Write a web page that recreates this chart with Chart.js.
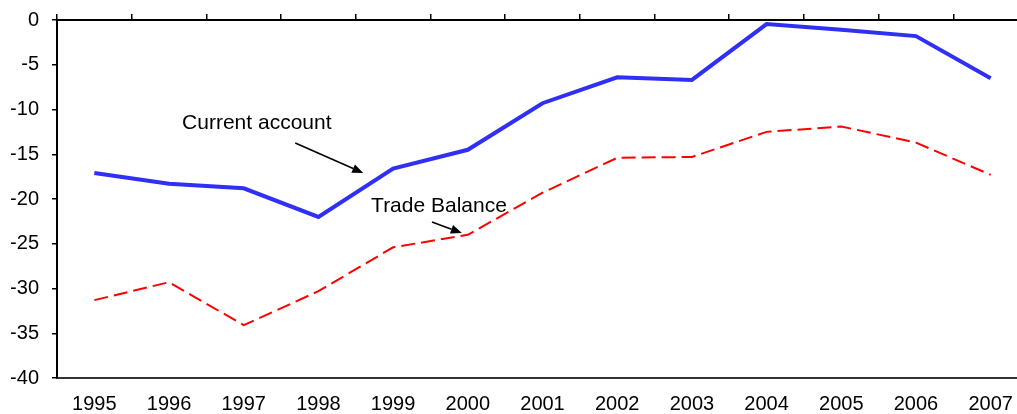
<!DOCTYPE html>
<html>
<head>
<meta charset="utf-8">
<script src="https://cdn.jsdelivr.net/npm/chart.js@4/dist/chart.umd.min.js"></script>
<style>
  html, body { margin: 0; padding: 0; background: #fff; overflow: hidden; }
  #wrap { width: 1030px; height: 414px; }
</style>
</head>
<body>
<div id="wrap"><canvas id="c" width="1030" height="414"></canvas></div>
<script>
const years = ['1995','1996','1997','1998','1999','2000','2001','2002','2003','2004','2005','2006','2007'];
const currentAccount = [-17.1, -18.3, -18.8, -22.0, -16.6, -14.5, -9.3, -6.4, -6.7, -0.45, -1.1, -1.8, -6.5];
const tradeBalance = [-31.3, -29.3, -34.1, -30.3, -25.4, -24.0, -19.3, -15.4, -15.3, -12.5, -11.9, -13.7, -17.3];
const yTicks = [0, -5, -10, -15, -20, -25, -30, -35, -40];

const FONT = '"Liberation Sans", Arial, sans-serif';

const annotationPlugin = {
  id: 'notes',
  afterDatasetsDraw(chart, args, opts) {
    const ctx = chart.ctx, xs = chart.scales.x, ys = chart.scales.y;
    ctx.save();
    ctx.fillStyle = '#000';
    ctx.strokeStyle = '#000';
    ctx.font = '21px ' + FONT;
    ctx.textBaseline = 'middle';
    ctx.textAlign = 'left';
    for (const t of opts.texts) {
      ctx.fillText(t.text, xs.getPixelForValue(t.x), ys.getPixelForValue(t.y));
    }
    for (const a of opts.arrows) {
      const x1 = xs.getPixelForValue(a.x1), y1 = ys.getPixelForValue(a.y1);
      const x2 = xs.getPixelForValue(a.x2), y2 = ys.getPixelForValue(a.y2);
      const ang = Math.atan2(y2 - y1, x2 - x1);
      const hl = 11, hw = 4.5;
      const bx = x2 - hl * Math.cos(ang), by = y2 - hl * Math.sin(ang);
      ctx.lineWidth = 1.6;
      ctx.beginPath(); ctx.moveTo(x1, y1); ctx.lineTo(bx, by); ctx.stroke();
      ctx.beginPath();
      ctx.moveTo(x2, y2);
      ctx.lineTo(bx + hw * Math.sin(ang), by - hw * Math.cos(ang));
      ctx.lineTo(bx - hw * Math.sin(ang), by + hw * Math.cos(ang));
      ctx.closePath(); ctx.fill();
    }
    ctx.restore();
  }
};

new Chart(document.getElementById('c'), {
  type: 'line',
  data: {
    labels: years,
    datasets: [
      {
        label: 'Current account',
        data: currentAccount,
        borderColor: '#2f2ff5',
        borderWidth: 4,
        pointRadius: 0,
        tension: 0,
        fill: false
      },
      {
        label: 'Trade Balance',
        data: tradeBalance,
        borderColor: '#ff0000',
        borderWidth: 2,
        borderDash: [14, 6],
        pointRadius: 0,
        tension: 0,
        fill: false
      }
    ]
  },
  options: {
    responsive: false,
    animation: false,
    devicePixelRatio: 1,
    layout: { padding: { left: 11, top: 14, right: 2, bottom: 0 } },
    plugins: {
      legend: { display: false },
      tooltip: { enabled: false },
      notes: {
        texts: [
          { text: 'Current account', x: 1.175, y: -11.5 },
          { text: 'Trade Balance', x: 3.705, y: -20.8 }
        ],
        arrows: [
          { x1: 2.69, y1: -13.74, x2: 3.60, y2: -17.1 },
          { x1: 4.52, y1: -22.57, x2: 4.92, y2: -23.8 }
        ]
      }
    },
    scales: {
      x: {
        type: 'category',
        position: 'bottom',
        offset: true,
        afterFit(scale) { scale.height = 36; scale.paddingLeft = 0; scale.paddingRight = 0; },
        grid: { display: false, drawTicks: false },
        border: { display: true, color: '#333', width: 2 },
        ticks: { color: '#000', font: { family: FONT, size: 20 }, padding: 14, maxRotation: 0, autoSkip: false }
      },
      x2: {
        type: 'category',
        labels: years,
        position: 'top',
        offset: true,
        afterFit(scale) { scale.height = 6; scale.paddingLeft = 0; scale.paddingRight = 0; },
        grid: { offset: true, drawOnChartArea: false, drawTicks: true, tickLength: 6, color: '#000', lineWidth: 1.5 },
        border: { display: true, color: '#000', width: 2 },
        ticks: { display: false }
      },
      y: {
        min: -40,
        max: 0,
        afterFit(scale) { scale.width = 46; scale.paddingTop = 0; scale.paddingBottom = 0; },
        afterBuildTicks(scale) { scale.ticks = yTicks.map(v => ({ value: v })); },
        grid: { drawOnChartArea: false, drawTicks: true, tickLength: 5, color: '#000', lineWidth: 1.5 },
        border: { display: true, color: '#000', width: 2 },
        ticks: { color: '#000', font: { family: FONT, size: 20 }, padding: 13 }
      }
    }
  },
  plugins: [annotationPlugin]
});
</script>
</body>
</html>
